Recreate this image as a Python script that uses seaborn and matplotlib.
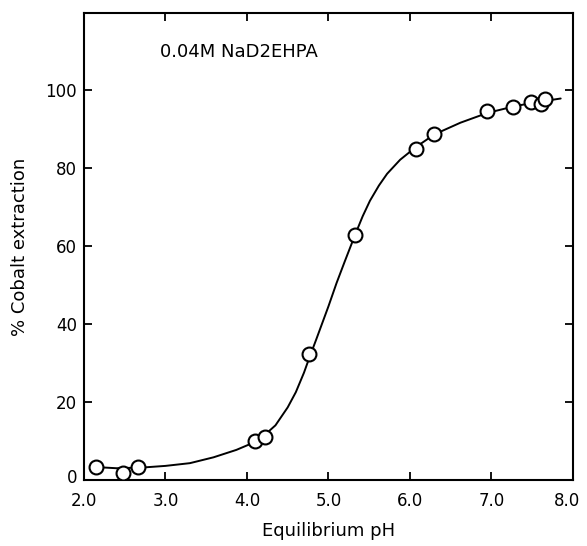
import matplotlib
matplotlib.use("Agg")
import matplotlib.pyplot as plt
import matplotlib.transforms as mtransforms
import seaborn as sns
import pandas as pd

# measured points
ph_points = [2.15, 2.48, 2.66, 4.10, 4.22, 4.76, 5.32, 6.07, 6.30, 6.95, 7.27, 7.48, 7.61, 7.66]
extraction_points = [3.4, 1.9, 3.3, 10.0, 10.9, 32.3, 62.8, 84.9, 88.7, 94.5, 95.7, 96.8, 96.4, 97.6]

# fitted curve
ph_curve = [2.15, 2.4, 2.73, 3.0, 3.3, 3.59, 3.87, 4.04, 4.2, 4.35, 4.5, 4.6, 4.7, 4.76, 4.85,
            5.0, 5.1, 5.2, 5.33, 5.42, 5.51, 5.62, 5.72, 5.88, 6.07, 6.3, 6.62, 6.95, 7.3, 7.6, 7.85]
extraction_curve = [3.3, 3.0, 3.2, 3.6, 4.3, 5.8, 7.7, 9.2, 11.2, 14.0, 18.6, 22.5, 27.5, 31.0, 36.0,
                    44.5, 50.5, 56.0, 63.0, 67.6, 71.6, 75.5, 78.5, 82.1, 85.3, 88.6, 91.6, 94.1,
                    95.9, 97.0, 97.8]

x_ticks = [2.0, 3.0, 4.0, 5.0, 6.0, 7.0, 8.0]
x_tick_labels = ["2.0", "3.0", "4.0", "5.0", "6.0", "7.0", "8.0"]
y_ticks = [0, 20, 40, 60, 80, 100]

sns.set_theme(style="ticks")
plt.rcParams['font.family'] = ['DejaVu Sans']

fig = plt.figure(figsize=(5.87, 5.46), dpi=100)
ax = fig.add_axes([0.143, 0.121, 0.833, 0.855])

curve_df = pd.DataFrame({"ph": ph_curve, "ext": extraction_curve})
pts_df = pd.DataFrame({"ph": ph_points, "ext": extraction_points})

sns.lineplot(data=curve_df, x="ph", y="ext", ax=ax, color="black", linewidth=1.4,
             sort=False, estimator=None)
ax.plot(pts_df["ph"], pts_df["ext"], linestyle="none", marker="o", markersize=10,
        markerfacecolor="white", markeredgecolor="black", markeredgewidth=1.5, zorder=3)

ax.set_xlim(2.0, 8.0)
ax.set_ylim(0, 119.7)
ax.set_xticks(x_ticks)
ax.set_xticklabels(x_tick_labels)
ax.set_yticks(y_ticks)
ax.tick_params(direction="in", length=6, width=1.3, labelsize=12, colors="black",
               top=True, right=True, labeltop=False, labelright=False)
ax.tick_params(axis="x", pad=9)
ax.tick_params(axis="y", pad=5)
for s in ax.spines.values():
    s.set_linewidth(1.5)
    s.set_color("black")

ax.set_xlabel("Equilibrium pH", fontsize=13, labelpad=8, color="black")
ax.set_ylabel("% Cobalt extraction", fontsize=13, labelpad=12, color="black")
ax.text(2.93, 109.7, "0.04M NaD2EHPA", fontsize=13, va="center", ha="left", color="black")

fig.canvas.draw()
zero_lbl = ax.get_yticklabels()[0]
zero_lbl.set_transform(zero_lbl.get_transform() +
                       mtransforms.ScaledTranslation(0, 3 / 72, fig.dpi_scale_trans))
last_lbl = ax.get_xticklabels()[-1]
last_lbl.set_transform(last_lbl.get_transform() +
                       mtransforms.ScaledTranslation(-4 / 72, 0, fig.dpi_scale_trans))

fig.savefig("out.png", dpi=100)
